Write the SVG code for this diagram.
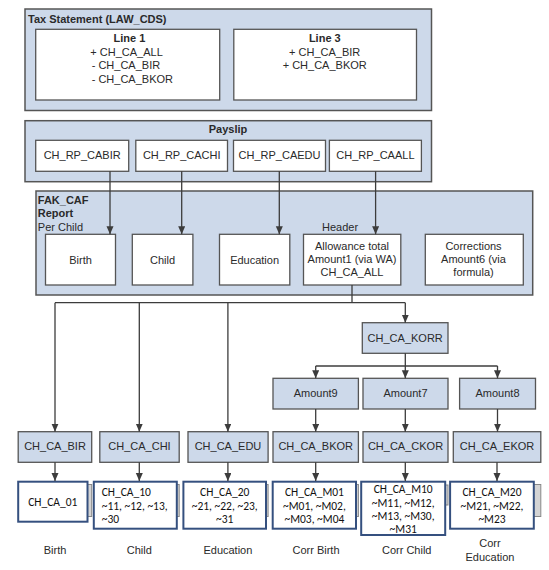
<svg xmlns="http://www.w3.org/2000/svg" width="549" height="570" viewBox="0 0 549 570">
<style>
text{font-family:"Liberation Sans",Arial,sans-serif;font-size:11px;fill:#2a2a2a}
.b{font-weight:bold}
.m{text-anchor:middle}
.c{fill:#cdd9ea;stroke:#555;stroke-width:1.5}
.w{fill:#fff;stroke:#555;stroke-width:1.3}
.g{fill:#cdd9ea;stroke:#555;stroke-width:1.3}
.bl{fill:#fff;stroke:#35507f;stroke-width:2}
.tab{fill:#d4d4d4;stroke:#888;stroke-width:1}
.k{font-family:Carlito,"Liberation Sans",Arial,sans-serif;font-size:11.5px;fill:#111}
.ln{fill:none;stroke:#3c3c3c;stroke-width:1.3}
</style>
<defs>
<marker id="ah" markerUnits="userSpaceOnUse" markerWidth="8" markerHeight="8" refX="8" refY="3.5" orient="auto">
<path d="M0,0 L8,3.5 L0,7 z" fill="#3c3c3c"/>
</marker>
</defs>
<rect width="549" height="570" fill="#fff"/>

<g id="tax">
<rect class="c" x="25" y="9" width="406.5" height="101.5"/>
<text class="b" x="28" y="22.5">Tax Statement (LAW_CDS)</text>
<g id="line1">
<rect class="w" x="35.7" y="29.3" width="184" height="70.7"/>
<text class="b m" x="129.5" y="41.5">Line 1</text>
<text x="90.3" y="55.5">+ CH_CA_ALL</text>
<text x="91.7" y="68.5">- CH_CA_BIR</text>
<text x="91.7" y="82.5">- CH_CA_BKOR</text>
</g>
<g id="line3">
<rect class="w" x="233.8" y="29.3" width="182.7" height="70.7"/>
<text class="b m" x="324.8" y="41.5">Line 3</text>
<text class="m" x="324.7" y="55.5">+ CH_CA_BIR</text>
<text class="m" x="324.7" y="68.5">+ CH_CA_BKOR</text>
</g>
</g>

<g id="payslip">
<rect class="c" x="25" y="120.7" width="406.5" height="61"/>
<text class="b m" x="228" y="133.3">Payslip</text>
<g id="rp_cabir"><rect class="w" x="35.7" y="140.3" width="93" height="31"/><text class="m" x="82.2" y="159">CH_RP_CABIR</text></g>
<g id="rp_cachi"><rect class="w" x="135.8" y="140.3" width="91.7" height="31"/><text class="m" x="181.7" y="159">CH_RP_CACHI</text></g>
<g id="rp_caedu"><rect class="w" x="233.5" y="140.3" width="92" height="31"/><text class="m" x="279.5" y="159">CH_RP_CAEDU</text></g>
<g id="rp_caall"><rect class="w" x="329.4" y="140.3" width="92" height="31"/><text class="m" x="375.4" y="159">CH_RP_CAALL</text></g>
</g>

<g id="fakcaf">
<rect class="c" x="36" y="191" width="496.7" height="104"/>
<text class="b" x="37.8" y="204">FAK_CAF</text>
<text class="b" x="37.8" y="217.3">Report</text>
<text x="37.8" y="230.7">Per Child</text>
<text x="322" y="230.7">Header</text>
<g id="birth"><rect class="w" x="45.5" y="234.3" width="70" height="50.7"/><text class="m" x="80.5" y="263.5">Birth</text></g>
<g id="child"><rect class="w" x="132.3" y="234.3" width="60.6" height="50.7"/><text class="m" x="162.6" y="263.5">Child</text></g>
<g id="education"><rect class="w" x="219.5" y="234.3" width="70.3" height="50.7"/><text class="m" x="254.6" y="263.5">Education</text></g>
<g id="allowance"><rect class="w" x="303.5" y="234.3" width="97.3" height="50.7"/>
<text class="m" x="352" y="250">Allowance total</text>
<text class="m" x="352" y="263">Amount1 (via WA)</text>
<text class="m" x="352" y="276.3">CH_CA_ALL</text></g>
<g id="corrections"><rect class="w" x="425.3" y="234.3" width="98" height="50.7"/>
<text class="m" x="473.5" y="250">Corrections</text>
<text class="m" x="473.5" y="263">Amount6 (via</text>
<text class="m" x="473.5" y="276.3">formula)</text></g>
</g>

<g id="korr"><rect class="g" x="362.3" y="322.7" width="85.7" height="30.6"/><text class="m" x="405.2" y="341.7">CH_CA_KORR</text></g>
<g id="amount9"><rect class="g" x="273" y="378.3" width="85.4" height="30.7"/><text class="m" x="315.7" y="397.3">Amount9</text></g>
<g id="amount7"><rect class="g" x="363" y="378.3" width="85" height="30.7"/><text class="m" x="405.5" y="397.3">Amount7</text></g>
<g id="amount8"><rect class="g" x="459.6" y="378.3" width="75.9" height="30.7"/><text class="m" x="497.5" y="397.3">Amount8</text></g>

<g id="ca_bir"><rect class="g" x="18.2" y="431.7" width="73.5" height="30.6"/><text class="m" x="55" y="450">CH_CA_BIR</text></g>
<g id="ca_chi"><rect class="g" x="99.8" y="431.7" width="79.4" height="30.6"/><text class="m" x="139.5" y="450">CH_CA_CHI</text></g>
<g id="ca_edu"><rect class="g" x="188" y="431.7" width="80.1" height="30.6"/><text class="m" x="228" y="450">CH_CA_EDU</text></g>
<g id="ca_bkor"><rect class="g" x="273" y="431.7" width="85.4" height="30.6"/><text class="m" x="315.7" y="450">CH_CA_BKOR</text></g>
<g id="ca_ckor"><rect class="g" x="363" y="431.7" width="85" height="30.6"/><text class="m" x="405.5" y="450">CH_CA_CKOR</text></g>
<g id="ca_ekor"><rect class="g" x="453.3" y="431.7" width="87.5" height="30.6"/><text class="m" x="497" y="450">CH_CA_EKOR</text></g>

<g id="wt_01"><rect class="tab" x="84" y="484.5" width="7.7" height="32"/><rect class="bl" x="18.2" y="481.7" width="69.3" height="40"/>
<text class="k m" x="52.8" y="506">CH_CA_01</text></g>
<g id="wt_10"><rect class="tab" x="173" y="484.5" width="6.2" height="32"/><rect class="bl" x="93.8" y="481.7" width="83" height="47"/>
<text class="k" x="101.7" y="496.3">CH_CA_10</text>
<text class="k" x="101.7" y="510">~11, ~12, ~13,</text>
<text class="k" x="101.7" y="523.3">~30</text></g>
<g id="wt_20"><rect class="tab" x="262" y="484.5" width="6.1" height="32"/><rect class="bl" x="183.4" y="481.7" width="82.6" height="47"/>
<text class="k m" x="224.7" y="496.3">CH_CA_20</text>
<text class="k m" x="224.7" y="510">~21, ~22, ~23,</text>
<text class="k m" x="224.7" y="523.3">~31</text></g>
<g id="wt_m01"><rect class="tab" x="352" y="484.5" width="6.4" height="32"/><rect class="bl" x="272.7" y="481.7" width="83.3" height="47"/>
<text class="k m" x="314.4" y="496.3">CH_CA_M01</text>
<text class="k m" x="314.4" y="510">~M01, ~M02,</text>
<text class="k m" x="314.4" y="523.3">~M03, ~M04</text></g>
<g id="wt_m10"><rect class="tab" x="441" y="485" width="7" height="20"/><rect class="bl" x="361.2" y="481.7" width="84" height="53.3"/>
<text class="k m" x="403.2" y="493.3">CH_CA_M10</text>
<text class="k m" x="403.2" y="506.7">~M11, ~M12,</text>
<text class="k m" x="403.2" y="520">~M13, ~M30,</text>
<text class="k m" x="403.2" y="533.3">~M31</text></g>
<g id="wt_m20"><rect class="tab" x="530" y="484.5" width="10.8" height="32"/><rect class="bl" x="450.1" y="481.7" width="83.7" height="47"/>
<text class="k m" x="492" y="496.3">CH_CA_M20</text>
<text class="k m" x="492" y="510">~M21, ~M22,</text>
<text class="k m" x="492" y="523.3">~M23</text></g>

<g id="labels">
<text class="m" x="55" y="554">Birth</text>
<text class="m" x="139.3" y="554">Child</text>
<text class="m" x="227.9" y="554">Education</text>
<text class="m" x="316" y="554">Corr Birth</text>
<text class="m" x="406.7" y="554">Corr Child</text>
<text class="m" x="490" y="547.3">Corr</text>
<text class="m" x="490" y="560.7">Education</text>
</g>

<g id="connectors" class="ln">
<line x1="110" y1="171.3" x2="110" y2="234.3" marker-end="url(#ah)"/>
<line x1="181.7" y1="171.3" x2="181.7" y2="234.3" marker-end="url(#ah)"/>
<line x1="279.3" y1="171.3" x2="279.3" y2="234.3" marker-end="url(#ah)"/>
<line x1="375.6" y1="171.3" x2="375.6" y2="234.3" marker-end="url(#ah)"/>
<polyline points="352,285 352,302.7"/>
<polyline points="55,302.7 405.3,302.7"/>
<line x1="55" y1="302.7" x2="55" y2="431.7" marker-end="url(#ah)"/>
<line x1="139.3" y1="302.7" x2="139.3" y2="431.7" marker-end="url(#ah)"/>
<line x1="227.9" y1="302.7" x2="227.9" y2="431.7" marker-end="url(#ah)"/>
<line x1="405.3" y1="302.7" x2="405.3" y2="322.7" marker-end="url(#ah)"/>
<polyline points="405.3,353.3 405.3,366"/>
<polyline points="315.7,366 497.5,366"/>
<line x1="315.7" y1="366" x2="315.7" y2="378.3" marker-end="url(#ah)"/>
<line x1="405.3" y1="366" x2="405.3" y2="378.3" marker-end="url(#ah)"/>
<line x1="497.5" y1="366" x2="497.5" y2="378.3" marker-end="url(#ah)"/>
<line x1="315.7" y1="409" x2="315.7" y2="431.7" marker-end="url(#ah)"/>
<line x1="405.3" y1="409" x2="405.3" y2="431.7" marker-end="url(#ah)"/>
<line x1="497.5" y1="409" x2="497.5" y2="431.7" marker-end="url(#ah)"/>
<line x1="55" y1="462.3" x2="55" y2="481" marker-end="url(#ah)"/>
<line x1="139.3" y1="462.3" x2="139.3" y2="481" marker-end="url(#ah)"/>
<line x1="227.9" y1="462.3" x2="227.9" y2="481" marker-end="url(#ah)"/>
<line x1="315.7" y1="462.3" x2="315.7" y2="481" marker-end="url(#ah)"/>
<line x1="405.3" y1="462.3" x2="405.3" y2="481" marker-end="url(#ah)"/>
<line x1="497" y1="462.3" x2="497" y2="481" marker-end="url(#ah)"/>
</g>
</svg>
